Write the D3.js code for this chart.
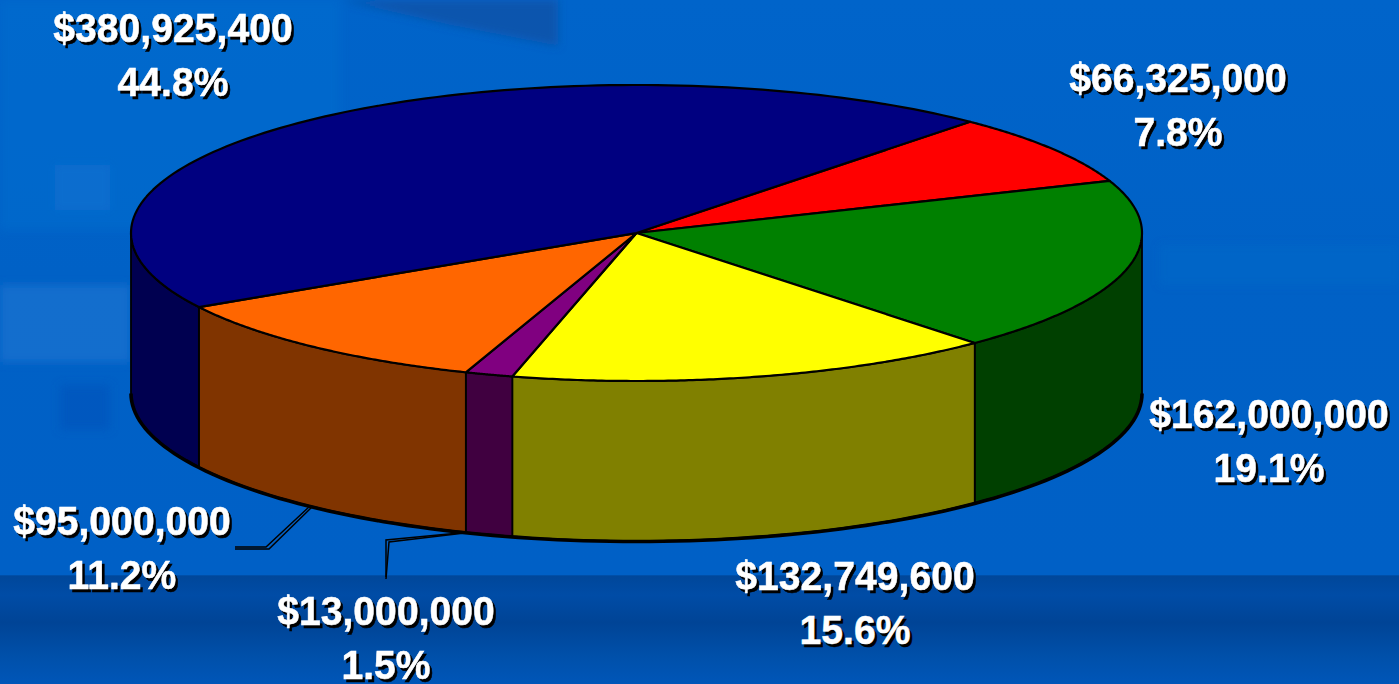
<!DOCTYPE html>
<html><head><meta charset="utf-8">
<script src="https://cdn.jsdelivr.net/npm/d3@7/dist/d3.min.js"></script>
<style>html,body{margin:0;padding:0;background:#0060c4;overflow:hidden}svg{display:block}</style>
</head><body><svg id="c" width="1399" height="684"></svg>
<script>
const names = ["Red","Green","Yellow","Purple","Orange","Navy"];
const values = [66325000,162000000,132749600,13000000,95000000,380925400];
const percents = ["7.8%","19.1%","15.6%","1.5%","11.2%","44.8%"];
const topColors = ["#ff0000","#008000","#ffff00","#800080","#ff6600","#000080"];
const sideColors = ["#800000","#004000","#808000","#400040","#803400","#000050"];
const labelX = [1178,1269,855,386,122,173];
const labelY = [92,428,590,625,535,42];

const W=1399,H=684,cx=636.5,cy=233,rx=505.5,ry=148,depth=160;
const rad=Math.PI/180;
const svg=d3.select("#c");
const defs=svg.append("defs");
const bg=defs.append("linearGradient").attr("id","bg").attr("x1",0).attr("y1",0).attr("x2",0).attr("y2",1);
[[0,"#0064ca"],[.4,"#0061c6"],[.84,"#0060c6"],[.842,"#00479a"],[.87,"#004ca6"],[.91,"#004496"],[.96,"#0050aa"],[1,"#0056b8"]]
 .forEach(s=>bg.append("stop").attr("offset",s[0]).attr("stop-color",s[1]));
defs.append("filter").attr("id","blur").attr("x","-30%").attr("y","-30%").attr("width","160%").attr("height","160%")
  .append("feGaussianBlur").attr("stdDeviation",4);
svg.append("rect").attr("width",W).attr("height",H).attr("fill","url(#bg)");
const tex=svg.append("g").attr("filter","url(#blur)");
[[[340,0],[558,0],[558,46],[450,25]],
 [[0,285],[130,285],[130,362],[0,362]],
 [[55,165],[110,165],[110,210],[55,210]],
 [[60,385],[110,385],[110,430],[60,430]],
 [[0,0],[340,0],[340,230],[0,230]],
 [[1160,245],[1399,245],[1399,285],[1160,285]]]
 .forEach((p,i)=>tex.append("path").attr("d",d3.line()(p)+"Z")
   .attr("fill",["#0a52a6","#1a74d0","#2a7ed6","#0054bc","#006ed0","#106cc8"][i])
   .attr("opacity",[.8,.7,.5,.7,.5,.4][i]));

// pie layout through d3
const start=41.3*rad;
const arcs=d3.pie().sort(null).startAngle(start).endAngle(start+2*Math.PI)(values);
const px=a=>cx+rx*Math.sin(a), py=a=>cy-ry*Math.cos(a);
const samples=(a0,a1)=>d3.range(0,121).map(i=>a0+(a1-a0)*i/120);
const line=d3.line();

// leader lines behind the pie
const leaders=[[[310,506],[266,547],[235,547]],[[470,532],[386,540],[386,577]]];
const g=svg.append("g");
leaders.forEach(l=>{
  [[0,0],[3,2]].forEach(o=>g.append("path").attr("d",line(l.map(p=>[p[0]+o[0]*(p===l[2]?0:1),p[1]+o[1]*(p===l[0]?0:1)])))
    .attr("fill","none").attr("stroke","#000").attr("stroke-width",1.5));
});

// extruded rim: visible for angles facing the viewer (90..270 deg)
arcs.forEach(d=>{
  [0,2*Math.PI].forEach(k=>{
    const a0=Math.max(d.startAngle-k,90*rad),a1=Math.min(d.endAngle-k,270*rad);
    if(a1<=a0) return;
    const upper=samples(a0,a1).map(a=>[px(a),py(a)]);
    const lower=samples(a1,a0).map(a=>[px(a),py(a)+depth]);
    g.append("path").attr("d",line(upper.concat(lower))+"Z").attr("fill",sideColors[d.index])
      .attr("stroke","#000").attr("stroke-width",1.8).attr("stroke-linejoin","round");
  });
});
g.append("path").attr("d",line(samples(90*rad,270*rad).map(a=>[px(a),py(a)+depth+.5])))
  .attr("fill","none").attr("stroke","#000").attr("stroke-width",3.6);

// top face
arcs.forEach(d=>{
  const pts=[[cx,cy]].concat(samples(d.startAngle,d.endAngle).map(a=>[px(a),py(a)]));
  g.append("path").attr("d",line(pts)+"Z").attr("fill",topColors[d.index])
    .attr("stroke","#000").attr("stroke-width",2.2).attr("stroke-linejoin","round");
});

// labels
const fmt=d3.format("$,");
function label(x,y,t){
  const attrs=(s,c)=>s.attr("text-anchor","middle").attr("font-family","'Liberation Sans',Arial,sans-serif")
    .attr("font-weight","bold").attr("font-size",38).attr("fill",c).attr("stroke",c).attr("stroke-width",.5).text(t);
  attrs(svg.append("text").attr("transform",`translate(${x+2.5},${y+2.5}) scale(1.03,1.06)`),"#000");
  attrs(svg.append("text").attr("transform",`translate(${x},${y}) scale(1.03,1.06)`),"#fff");
}
values.forEach((v,i)=>{
  label(labelX[i],labelY[i],fmt(v));
  label(labelX[i],labelY[i]+54,percents[i]);
});
</script></body></html>
